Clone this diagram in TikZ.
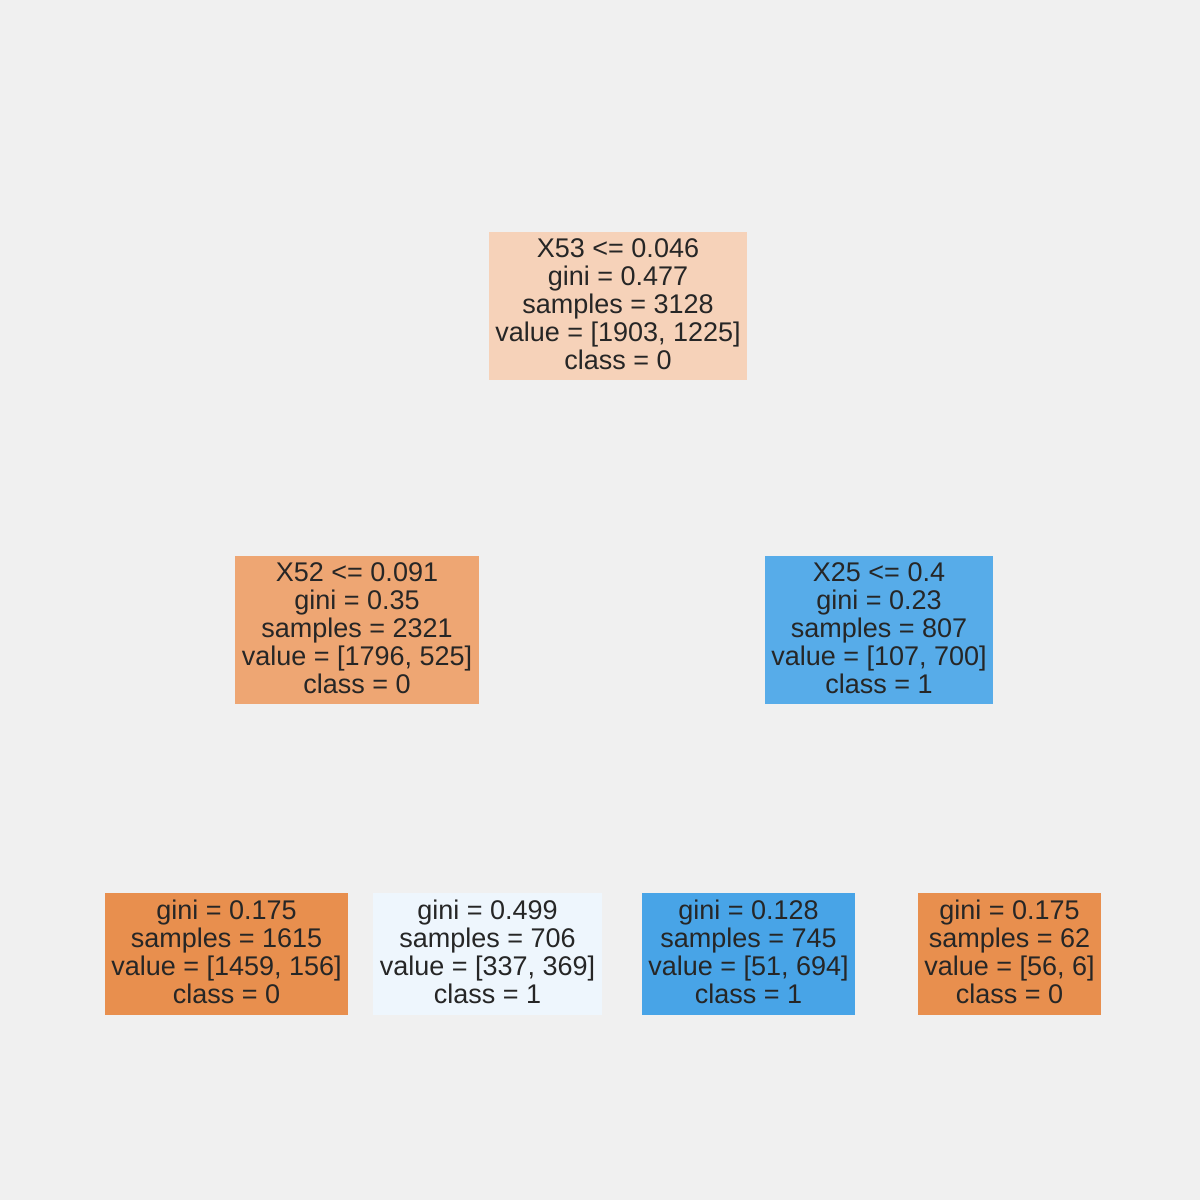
\documentclass[tikz,border=0pt]{standalone}
\usepackage{fontspec}
\setmainfont{Liberation Sans}
\definecolor{bg}{HTML}{F0F0F0}
\definecolor{txt}{HTML}{262626}
\definecolor{cRoot}{HTML}{F6D2B9}
\definecolor{cL}{HTML}{EEA673}
\definecolor{cR}{HTML}{57ACE9}
\definecolor{cA}{HTML}{E88F4E}
\definecolor{cB}{HTML}{EEF6FD}
\definecolor{cC}{HTML}{48A4E7}
\begin{document}
\begin{tikzpicture}[x=1pt,y=-1pt,
  treebox/.style={fill=#1, draw=none, inner sep=0pt},
  treetext/.style={inner sep=0pt, align=center, text=txt,
    font=\fontsize{27}{28}\selectfont}]
\fill[bg] (0,0) rectangle (1200,1200);
\useasboundingbox (0,0) rectangle (1200,1200);
\node[treebox=cRoot, minimum width=258pt, minimum height=148pt] (root) at (618,306) {};
\node[treetext] (rootT) at ([yshift=2pt]root.center)
  {X53 <= 0.046\\gini = 0.477\\samples = 3128\\value = [1903, 1225]\\class = 0};
\node[treebox=cL, minimum width=244pt, minimum height=148pt] (left) at (357,630) {};
\node[treetext] (leftT) at ([yshift=2pt]left.center)
  {X52 <= 0.091\\gini = 0.35\\samples = 2321\\value = [1796, 525]\\class = 0};
\node[treebox=cR, minimum width=228pt, minimum height=148pt] (right) at (879,630) {};
\node[treetext] (rightT) at ([yshift=2pt]right.center)
  {X25 <= 0.4\\gini = 0.23\\samples = 807\\value = [107, 700]\\class = 1};
\node[treebox=cA, minimum width=243pt, minimum height=122pt] (ll) at (226.5,954) {};
\node[treetext] (llT) at ([yshift=2pt]ll.center)
  {gini = 0.175\\samples = 1615\\value = [1459, 156]\\class = 0};
\node[treebox=cB, minimum width=229pt, minimum height=122pt] (lr) at (487.5,954) {};
\node[treetext] (lrT) at ([yshift=2pt]lr.center)
  {gini = 0.499\\samples = 706\\value = [337, 369]\\class = 1};
\node[treebox=cC, minimum width=213pt, minimum height=122pt] (rl) at (748.5,954) {};
\node[treetext] (rlT) at ([yshift=2pt]rl.center)
  {gini = 0.128\\samples = 745\\value = [51, 694]\\class = 1};
\node[treebox=cA, minimum width=183pt, minimum height=122pt] (rr) at (1009.5,954) {};
\node[treetext] (rrT) at ([yshift=2pt]rr.center)
  {gini = 0.175\\samples = 62\\value = [56, 6]\\class = 0};
\end{tikzpicture}
\end{document}
